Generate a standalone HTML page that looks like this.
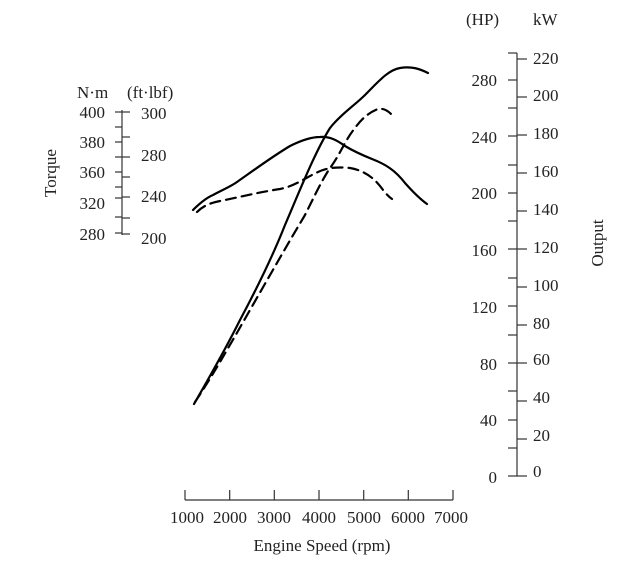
<!DOCTYPE html>
<html><head><meta charset="utf-8"><style>
html,body{margin:0;padding:0;background:#fff;}
svg{display:block;font-family:"Liberation Serif",serif;}
</style></head><body>
<svg width="619" height="563" viewBox="0 0 619 563" xmlns="http://www.w3.org/2000/svg">
<g fill="#222" font-size="17">
<line x1="185" y1="500" x2="453" y2="500" stroke="#333" stroke-width="1.2"/>
<g stroke="#333" stroke-width="1.2">
<line x1="185" y1="490" x2="185" y2="500"/><line x1="229.7" y1="490" x2="229.7" y2="500"/><line x1="274.3" y1="490" x2="274.3" y2="500"/><line x1="319" y1="490" x2="319" y2="500"/><line x1="363.7" y1="490" x2="363.7" y2="500"/><line x1="408.3" y1="490" x2="408.3" y2="500"/><line x1="453" y1="490" x2="453" y2="500"/>
</g>
<g text-anchor="middle">
<text x="187" y="523">1000</text><text x="230" y="523">2000</text><text x="274" y="523">3000</text><text x="319" y="523">4000</text><text x="364" y="523">5000</text><text x="408" y="523">6000</text><text x="451" y="523">7000</text>
<text x="322" y="551">Engine Speed (rpm)</text>
</g>
<line x1="122" y1="110" x2="122" y2="235" stroke="#333" stroke-width="1.2"/>
<g stroke="#333" stroke-width="1.2">
<line x1="115" y1="112" x2="122" y2="112"/><line x1="115" y1="127" x2="122" y2="127"/><line x1="115" y1="142" x2="122" y2="142"/><line x1="115" y1="157" x2="122" y2="157"/><line x1="115" y1="172" x2="122" y2="172"/><line x1="115" y1="187" x2="122" y2="187"/><line x1="115" y1="198" x2="122" y2="198"/><line x1="115" y1="217" x2="122" y2="217"/><line x1="115" y1="233" x2="122" y2="233"/>
<line x1="122" y1="112" x2="130" y2="112"/><line x1="122" y1="137" x2="130" y2="137"/><line x1="122" y1="157" x2="130" y2="157"/><line x1="122" y1="177" x2="130" y2="177"/><line x1="122" y1="197" x2="130" y2="197"/><line x1="122" y1="218" x2="130" y2="218"/><line x1="122" y1="234" x2="130" y2="234"/>
</g>
<g text-anchor="end">
<text x="105" y="118">400</text><text x="105" y="148">380</text><text x="105" y="178">360</text><text x="105" y="209">320</text><text x="105" y="240">280</text>
</g>
<g text-anchor="start">
<text x="141" y="119">300</text><text x="141" y="161">280</text><text x="141" y="202">240</text><text x="141" y="244">200</text>
</g>
<text x="77" y="98">N·m</text><text x="127" y="98">(ft·lbf)</text>
<text transform="translate(56,173) rotate(-90)" text-anchor="middle">Torque</text>
<line x1="517" y1="53" x2="517" y2="476" stroke="#333" stroke-width="1.2"/>
<g stroke="#333" stroke-width="1.2">
<line x1="508" y1="476" x2="517" y2="476"/><line x1="508" y1="448" x2="517" y2="448"/><line x1="508" y1="420" x2="517" y2="420"/><line x1="508" y1="391" x2="517" y2="391"/><line x1="508" y1="363" x2="517" y2="363"/><line x1="508" y1="335" x2="517" y2="335"/><line x1="508" y1="306" x2="517" y2="306"/><line x1="508" y1="278" x2="517" y2="278"/><line x1="508" y1="249" x2="517" y2="249"/><line x1="508" y1="221" x2="517" y2="221"/><line x1="508" y1="193" x2="517" y2="193"/><line x1="508" y1="165" x2="517" y2="165"/><line x1="508" y1="136" x2="517" y2="136"/><line x1="508" y1="108" x2="517" y2="108"/><line x1="508" y1="80" x2="517" y2="80"/><line x1="508" y1="53" x2="517" y2="53"/>
<line x1="517" y1="476" x2="527" y2="476"/><line x1="517" y1="439" x2="527" y2="439"/><line x1="517" y1="401" x2="527" y2="401"/><line x1="517" y1="363" x2="527" y2="363"/><line x1="517" y1="325" x2="527" y2="325"/><line x1="517" y1="287" x2="527" y2="287"/><line x1="517" y1="249" x2="527" y2="249"/><line x1="517" y1="211" x2="527" y2="211"/><line x1="517" y1="173" x2="527" y2="173"/><line x1="517" y1="135" x2="527" y2="135"/><line x1="517" y1="97" x2="527" y2="97"/><line x1="517" y1="59" x2="527" y2="59"/>
</g>
<g text-anchor="end">
<text x="497" y="483">0</text><text x="497" y="426">40</text><text x="497" y="370">80</text><text x="497" y="313">120</text><text x="497" y="256">160</text><text x="497" y="199">200</text><text x="497" y="143">240</text><text x="497" y="86">280</text>
</g>
<g text-anchor="start">
<text x="533" y="477">0</text><text x="533" y="441">20</text><text x="533" y="403">40</text><text x="533" y="365">60</text><text x="533" y="329">80</text><text x="533" y="291">100</text><text x="533" y="253">120</text><text x="533" y="215">140</text><text x="533" y="177">160</text><text x="533" y="139">180</text><text x="533" y="101">200</text><text x="533" y="64">220</text>
</g>
<text x="466" y="25">(HP)</text><text x="533" y="25">kW</text>
<text transform="translate(603,243) rotate(-90)" text-anchor="middle">Output</text>
</g>
<g fill="none" stroke="#000" stroke-width="2.2" stroke-linecap="round" stroke-linejoin="round">
<path d="M193,210 C200,203 206,198 213,195 C222,190 230,187 237,182 C250,173 270,158 290,146 C302,140 312,137 320,137 C330,136 338,141 345,146 C355,152 362,155 372,159 C385,164 395,170 405,183 C413,192 420,199 427,204"/>
<path d="M194,404 C205,385 225,350 240,320 C256,290 272,258 285,225 C300,190 315,152 330,128 C340,115 355,105 365,95 C378,82 388,70 400,68 C412,66 420,69 428,73"/>
<path stroke-dasharray="10,6" d="M197,212 C203,206 210,203 220,201 C240,197 260,192 280,189 C295,186 305,178 318,172 C328,167 340,167 350,168 C362,170 372,176 380,186 C386,194 389,197 392,199"/>
<path stroke-dasharray="10,6" d="M195,402 C210,380 230,345 250,310 C270,275 290,240 305,215 C315,195 322,180 330,168 C340,155 345,140 355,128 C362,118 370,112 378,109 C384,108 388,111 391,114"/>
</g>
</svg>
</body></html>
